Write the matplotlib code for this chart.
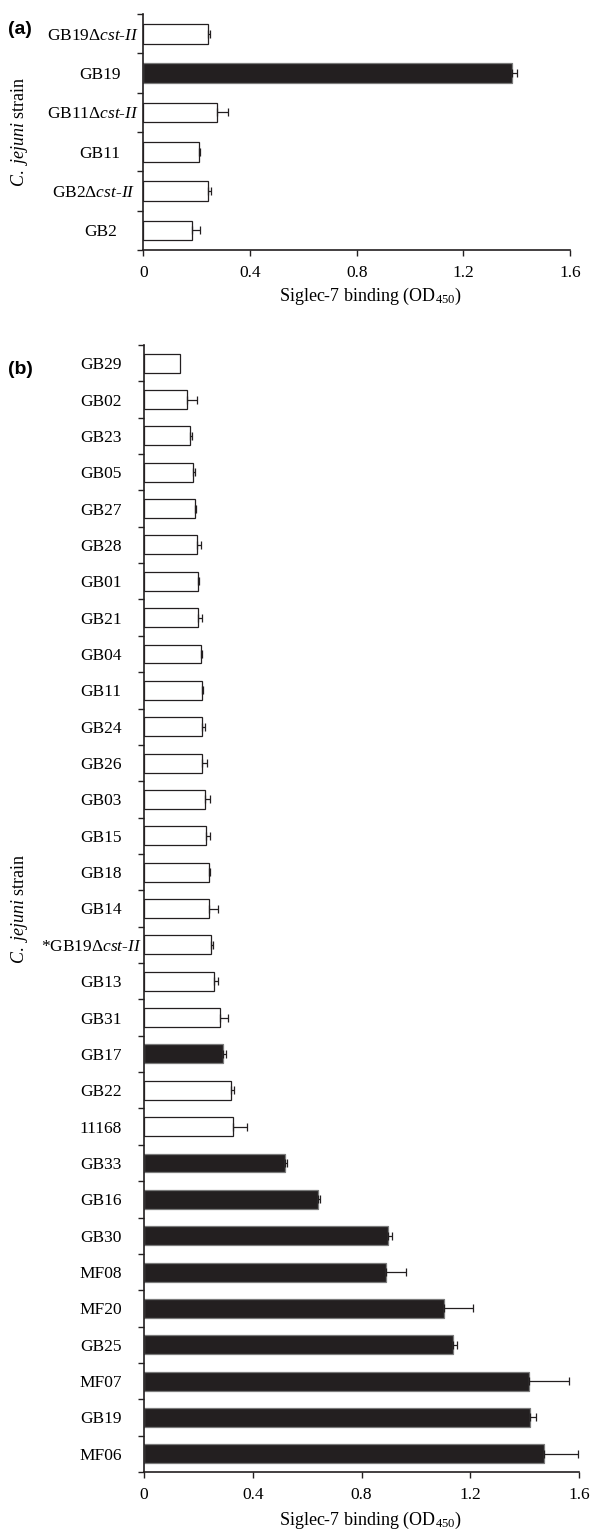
import numpy as np
import matplotlib
matplotlib.use('Agg')
import matplotlib.pyplot as plt
from matplotlib.ticker import FixedLocator, FuncFormatter

plt.rcParams['font.family'] = ['Liberation Serif', 'DejaVu Serif']
plt.rcParams['mathtext.fontset'] = 'custom'
plt.rcParams['mathtext.rm'] = 'Liberation Serif'
plt.rcParams['mathtext.it'] = 'Liberation Serif:italic'
plt.rcParams['font.size'] = 12.5

# panel (a)
strains_a = ['GB19Δcst-II', 'GB19', 'GB11Δcst-II', 'GB11', 'GB2Δcst-II', 'GB2']
values_a = [0.244, 1.384, 0.277, 0.210, 0.244, 0.184]
errors_a = [0.005, 0.019, 0.041, 0.004, 0.010, 0.029]
dark_a = ['GB19']

# panel (b)
strains_b = ['GB29', 'GB02', 'GB23', 'GB05', 'GB27', 'GB28', 'GB01', 'GB21',
             'GB04', 'GB11', 'GB24', 'GB26', 'GB03', 'GB15', 'GB18', 'GB14',
             '*GB19Δcst-II', 'GB13', 'GB31', 'GB17', 'GB22', '11168', 'GB33',
             'GB16', 'GB30', 'MF08', 'MF20', 'GB25', 'MF07', 'GB19', 'MF06']
values_b = [0.132, 0.157, 0.169, 0.179, 0.189, 0.194, 0.199, 0.199,
            0.210, 0.213, 0.213, 0.213, 0.223, 0.228, 0.238, 0.238,
            0.245, 0.257, 0.278, 0.289, 0.319, 0.329, 0.519,
            0.641, 0.898, 0.890, 1.103, 1.135, 1.416, 1.420, 1.471]
errors_b = [0.0, 0.037, 0.009, 0.009, 0.003, 0.016, 0.004, 0.016,
            0.005, 0.004, 0.011, 0.017, 0.020, 0.015, 0.005, 0.036,
            0.010, 0.016, 0.032, 0.011, 0.012, 0.051, 0.006,
            0.006, 0.015, 0.072, 0.107, 0.015, 0.148, 0.022, 0.124]
dark_b = ['GB17', 'GB33', 'GB16', 'GB30', 'MF08', 'MF20', 'GB25', 'MF07',
          'GB19', 'MF06']

x_ticks = [0, 0.4, 0.8, 1.2, 1.6]
INK = '#231f20'

W, H = 595, 1532
fig = plt.figure(figsize=(W / 100, H / 100), dpi=100)


def nice(name):
    return name.replace('Δcst-II', r'Δ$\mathit{cst}$-$\mathit{II}$')


def panel(ax, strains, values, errors, dark, barh, long_shift):
    n = len(strains)
    y = np.arange(n)
    fills = [INK if s in dark else 'white' for s in strains]
    edges = ['#7a7a7a' if s in dark else INK for s in strains]
    ax.barh(y, values, height=barh, color=fills, edgecolor=edges, linewidth=0.9, zorder=2)
    err = np.array(errors)
    vals = np.array(values)
    m = err > 0
    ax.errorbar(vals[m], y[m], xerr=[np.zeros(m.sum()), err[m]], fmt='none',
                ecolor=INK, elinewidth=0.9, capsize=2.6, capthick=0.9, zorder=3)
    ax.set_ylim(n - 0.5, -0.5)
    ax.set_xlim(0, 1.6)
    for s in ['top', 'right']:
        ax.spines[s].set_visible(False)
    for s in ['left', 'bottom']:
        ax.spines[s].set_linewidth(1.2)
        ax.spines[s].set_color(INK)
    ax.set_yticks(y)
    ax.set_yticklabels([nice(s) for s in strains], ha='center')
    ax.yaxis.set_minor_locator(FixedLocator(np.arange(n + 1) - 0.5))
    ax.tick_params(axis='y', which='major', length=0, pad=31)
    ax.tick_params(axis='y', which='minor', length=4, width=1.0, color=INK)
    ax.set_xticks(x_ticks)
    ax.xaxis.set_major_formatter(FuncFormatter(lambda v, p: '0' if v == 0 else f'{v:.1f}'))
    ax.tick_params(axis='x', length=4, width=1.0, color=INK, pad=7)
    for lab in ax.get_yticklabels():
        if 'cst' in lab.get_text():
            lab.set_x(long_shift)
    ax.set_xlabel(r'Siglec-7 binding (OD$_{450}$)', labelpad=5, fontsize=13)
    ax.set_ylabel(r'$\mathit{C.\ jejuni}$ strain', fontsize=13)


ax_a = fig.add_axes([143.3 / W, 1 - 250 / H, 426.7 / W, 236 / H])
panel(ax_a, strains_a, values_a, errors_a, dark_a, 0.5, -0.016)
ax_a.yaxis.set_label_coords(-(143.3 - 30) / 426.7, 0.5)
ax_a.xaxis.set_label_coords((370 - 143.3) / 426.7, -0.15)

ax_b = fig.add_axes([144 / W, 1 - 1472 / H, 435 / W, 1127 / H])
panel(ax_b, strains_b, values_b, errors_b, dark_b, 0.52, -0.023)
ax_b.yaxis.set_label_coords(-(144 - 30) / 435, 0.5)
ax_b.xaxis.set_label_coords((370 - 144) / 435, -38 / 1127)

fig.text(8 / W, 1 - 29 / H, '(a)', family='Liberation Sans', weight='bold', fontsize=14, va='center')
fig.text(8 / W, 1 - 369 / H, '(b)', family='Liberation Sans', weight='bold', fontsize=14, va='center')

fig.savefig('out.png', dpi=100)
